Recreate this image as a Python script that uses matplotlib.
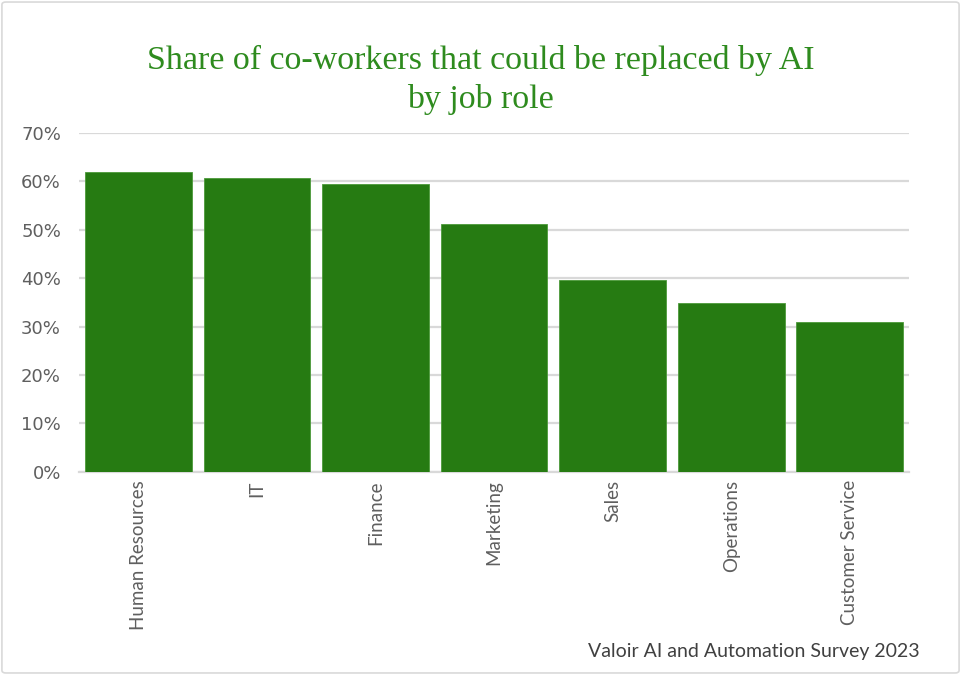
import matplotlib
matplotlib.use('Agg')
import matplotlib.pyplot as plt
import matplotlib.ticker as mticker
from matplotlib.patches import FancyBboxPatch
import numpy as np

GREEN = '#267B12'
TITLE_GREEN = '#2E8B1E'
GRID = '#D9D9D9'
TICK = '#5F5F5F'

roles = ['Human Resources', 'IT', 'Finance', 'Marketing',
         'Sales', 'Operations', 'Customer Service']
share = [0.620, 0.608, 0.594, 0.512, 0.396, 0.348, 0.309]

fig = plt.figure(figsize=(9.61, 6.75), dpi=100)
ax = fig.add_axes([0.0822, 0.301, 0.8638, 0.502])

x = np.arange(len(roles))
ax.bar(x, share, width=0.9, color=GREEN, edgecolor='#4C9A3A', linewidth=0.6, zorder=3)

ax.set_xlim(-0.5, len(roles) - 0.5)
ax.set_ylim(0, 0.7)
ax.yaxis.set_major_locator(mticker.MultipleLocator(0.1))
ax.yaxis.set_major_formatter(mticker.FuncFormatter(lambda v, _: f'{v*100:.0f}%'))
ax.grid(axis='y', color=GRID, linewidth=1.6, zorder=0)
ax.set_axisbelow(True)

ax.set_xticks(x)
ax.set_xticklabels(roles, rotation=90, fontsize=13.5, color=TICK, family='Lato')
for lbl in ax.get_yticklabels():
    lbl.set_family('DejaVu Sans')
ax.tick_params(axis='y', labelsize=13, labelcolor=TICK, length=0, pad=13)
ax.tick_params(axis='x', length=0, pad=6)

for side in ['top', 'right', 'left']:
    ax.spines[side].set_visible(False)
ax.spines['bottom'].set_color(GRID)
ax.spines['bottom'].set_linewidth(1.6)

fig.text(0.5, 0.91, 'Share of co-workers that could be replaced by AI',
         ha='center', va='center', fontsize=24.5, color=TITLE_GREEN,
         family='Liberation Serif')
fig.text(0.5, 0.852, 'by job role',
         ha='center', va='center', fontsize=24.5, color=TITLE_GREEN,
         family='Liberation Serif')

fig.text(0.957, 0.022, 'Valoir AI and Automation Survey 2023',
         ha='right', va='bottom', fontsize=14, color='#404040', family='Lato')

# light frame around the whole chart
frame = FancyBboxPatch((0.002, 0.003), 0.996, 0.994, boxstyle='round,pad=0,rounding_size=0.004',
                       transform=fig.transFigure, facecolor='none',
                       edgecolor='#D9D9D9', linewidth=1.2)
fig.patches.append(frame)

fig.savefig('out.png', dpi=100, facecolor='white')
plt.close(fig)
